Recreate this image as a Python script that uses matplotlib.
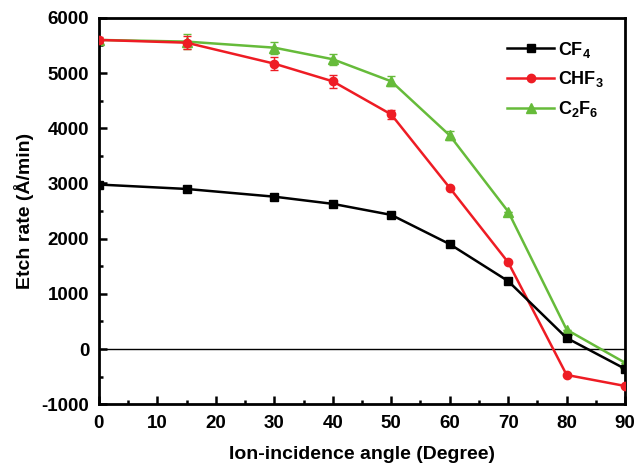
import numpy as np
import matplotlib
matplotlib.use("Agg")
from matplotlib import pyplot as plt
from matplotlib.ticker import MultipleLocator

plt.rcParams['font.family'] = ['Liberation Sans', 'DejaVu Sans']
plt.rcParams['font.weight'] = 'bold'
plt.rcParams['mathtext.fontset'] = 'custom'
plt.rcParams['mathtext.rm'] = 'Liberation Sans:bold'
plt.rcParams['mathtext.bf'] = 'Liberation Sans:bold'
plt.rcParams['axes.unicode_minus'] = False

# data
angle = [0, 15, 30, 40, 50, 60, 70, 80, 90]
cf4 = [2980, 2900, 2760, 2630, 2430, 1900, 1230, 200, -360]
chf3 = [5600, 5550, 5170, 4850, 4250, 2920, 1570, -470, -670]
c2f6 = [5600, 5570, 5460, 5250, 4850, 3870, 2490, 350, -250]
chf3_err = [60, 120, 120, 120, 80, 0, 0, 0, 0]
c2f6_err = [0, 130, 110, 100, 90, 80, 0, 0, 0]

red = '#ee1c24'
green = '#66bb3a'

fig = plt.figure(figsize=(6.34, 4.70), dpi=100)
ax = fig.add_axes([0.156, 0.140, 0.830, 0.822])

ax.axhline(0, color='black', lw=1.0, zorder=1)

# error bars
ax.errorbar(angle, chf3, yerr=chf3_err, fmt='none', ecolor=red,
            capsize=3, elinewidth=1, zorder=3)
ax.errorbar(angle, c2f6, yerr=c2f6_err, fmt='none', ecolor=green,
            capsize=3, elinewidth=1, zorder=2)

ax.plot(angle, cf4, color='black', marker='s', ms=5.5, lw=1.8,
        label=r'CF$_4$', zorder=4)
ax.plot(angle, chf3, color=red, marker='o', ms=6, lw=1.8,
        label=r'CHF$_3$', zorder=3)
ax.plot(angle, c2f6, color=green, marker='^', ms=6.5, lw=1.8,
        label=r'C$_2$F$_6$', zorder=2)

ax.set_xlim(0, 90)
ax.set_ylim(-1000, 6000)
ax.xaxis.set_major_locator(MultipleLocator(10))
ax.xaxis.set_minor_locator(MultipleLocator(5))
ax.yaxis.set_major_locator(MultipleLocator(1000))
ax.yaxis.set_minor_locator(MultipleLocator(500))
ax.tick_params(which='both', direction='in', width=1.8, labelsize=13.5)
ax.tick_params(which='major', length=6)
ax.tick_params(which='minor', length=3)
ax.tick_params(axis='x', which='major', pad=8)
ax.tick_params(axis='y', which='major', pad=7)
for s in ax.spines.values():
    s.set_linewidth(2)

ax.set_xlabel('Ion-incidence angle (Degree)', fontsize=14, fontweight='bold', labelpad=10)
ax.set_ylabel('Etch rate (Å/min)', fontsize=14, fontweight='bold', labelpad=5)

leg = ax.legend(loc='upper right', frameon=False, fontsize=13, handlelength=2.6,
                handletextpad=0.2, labelspacing=0.55, borderaxespad=0.8)

fig.savefig('out.png', dpi=100)
